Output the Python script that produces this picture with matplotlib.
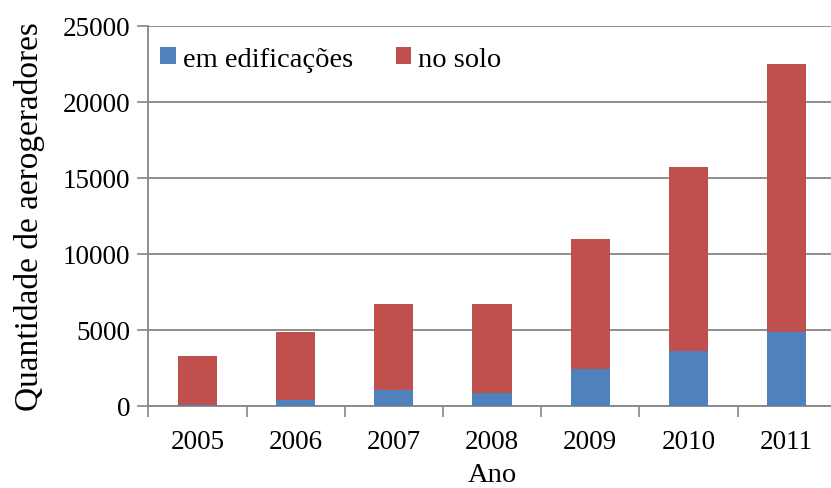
import matplotlib.pyplot as plt
import numpy as np

# Data
anos = ['2005', '2006', '2007', '2008', '2009', '2010', '2011']
total = [3250, 4830, 6690, 6690, 10950, 15670, 22450]
edificacoes = [20, 380, 1040, 840, 2400, 3600, 4830]
solo = [t - e for t, e in zip(total, edificacoes)]

corAzul = '#4F81BD'
corVermelho = '#C0504D'
corCinza = '#868686'

plt.rcParams['font.family'] = ['Liberation Serif', 'DejaVu Serif']

fig = plt.figure(figsize=(8.31, 4.89), dpi=100)
ax = fig.add_axes([0.1785, 0.1687, 0.8272, 0.7767])

index = np.arange(len(anos))
ax.bar(index, edificacoes, width=0.4, color=corAzul, label='em edificações', zorder=3)
ax.bar(index, solo, width=0.4, bottom=edificacoes, color=corVermelho, label='no solo', zorder=3)

ax.set_xlim(-0.5, len(anos) - 0.5)
ax.set_ylim(0, 25000)
ax.set_yticks(np.arange(0, 25001, 5000))
ax.yaxis.grid(True, color=corCinza, linewidth=1.3, zorder=0)

# x ticks between categories, labels at centres
ax.set_xticks(np.arange(-0.5, len(anos), 1))
ax.set_xticklabels([])
ax.set_xticks(index, minor=True)
ax.set_xticklabels(anos, minor=True, fontsize=19.5)
ax.tick_params(axis='x', which='minor', length=0, pad=17)
ax.tick_params(axis='x', which='major', length=8, color=corCinza, width=1.2)
ax.tick_params(axis='y', length=8, color=corCinza, width=1.2, labelsize=19.5, pad=5)

for s in ['top', 'right']:
    ax.spines[s].set_visible(False)
for s in ['left', 'bottom']:
    ax.spines[s].set_color(corCinza)
    ax.spines[s].set_linewidth(1.3)

ax.set_ylabel('Quantidade de aerogeradores', fontsize=24, labelpad=13)
ax.set_xlabel('Ano', fontsize=20.5, labelpad=6)

ax.legend(loc='upper left', ncol=2, frameon=False, fontsize=20.5, handlelength=0.55,
          handleheight=0.55, handletextpad=0.25, columnspacing=1.5,
          bbox_to_anchor=(-0.008, 0.99), borderaxespad=0.2)

plt.savefig('out.png', dpi=100)
